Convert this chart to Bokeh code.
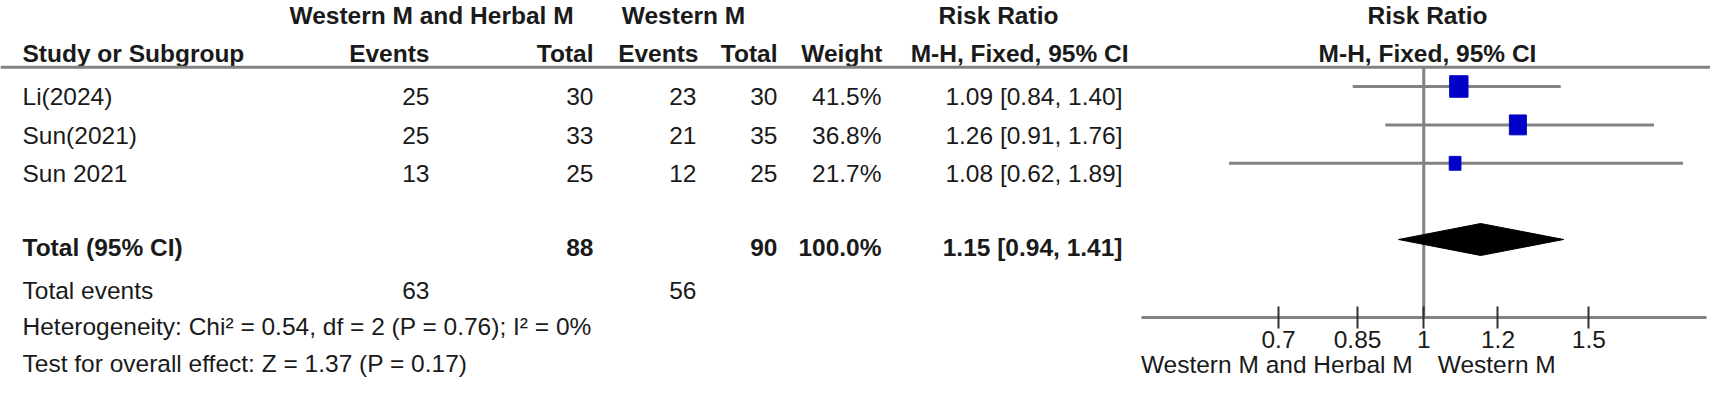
import math
from bokeh.plotting import figure
from bokeh.models import Range1d, LogScale, LogAxis, FixedTicker, CustomJSTickFormatter
from bokeh.core.properties import value
from bokeh.embed import file_html
from bokeh.resources import INLINE

# ---------------- data ----------------
studies = ["Li(2024)", "Sun(2021)", "Sun 2021"]
exp_events = [25, 25, 13]
exp_total = [30, 33, 25]
ctl_events = [23, 21, 12]
ctl_total = [30, 35, 25]
weights = [41.5, 36.8, 21.7]
rr = [1.09, 1.26, 1.08]
rr_lo = [0.84, 0.91, 0.62]
rr_hi = [1.40, 1.76, 1.89]
pooled = [1.15, 0.94, 1.41]          # estimate, lower, upper
total_weight = [100.0]
heterogeneity = "Heterogeneity: Chi\u00b2 = 0.54, df = 2 (P = 0.76); I\u00b2 = 0%"
overall = "Test for overall effect: Z = 1.37 (P = 0.17)"
ticks = [0.7, 0.85, 1, 1.2, 1.5]
axis_bounds = [0.5, 2]
null_value = [1]
favours = ["Western M and Herbal M", "Western M"]
group_headers = ["Western M and Herbal M", "Western M", "Risk Ratio", "Risk Ratio"]
col_headers = ["Study or Subgroup", "Events", "Total", "Events", "Total", "Weight",
               "M-H, Fixed, 95% CI", "M-H, Fixed, 95% CI"]
total_label = "Total (95% CI)"
events_label = "Total events"

# ---------------- layout / style ----------------
W, H = 1710, 378
FONT = "Liberation Sans"
FS = "24.5px"
TXT = "#1a1a1a"
GRAY = "#828282"
BLUE = "#0000c8"

X_LEFT = 22
X_EV1, X_TOT1, X_EV2, X_TOT2, X_WT, X_RR = 429, 593, 696, 777, 881, 1122
X_G1, X_G2, X_G3 = 431, 683, 998
X_MH_HDR = 1128
X_RIGHT_HDR = 1427

Y_HDR1, Y_HDR2, Y_RULE = 15, 52.5, 66.7
ROW_TEXT_Y = [96 + i * 38.6 for i in range(len(studies))]
ROW_MARK_Y = [86 + i * 38.4 for i in range(len(studies))]
Y_TOTAL_TXT, Y_DIAMOND = 246.5, 239
Y_EVENTS, Y_HET, Y_TEST = 289.5, 326, 363
Y_AXIS = 316.7
Y_FAV = 364
DIAMOND_HALF = 16

# forest log-scale mapping: 0.5 -> px 1141, 2 -> px 1705.5
PX_A, PX_B = 1141, 1705.5
ppl = (PX_B - PX_A) / math.log(axis_bounds[1] / axis_bounds[0])
rr_start = axis_bounds[0] * math.exp(-PX_A / ppl)
rr_end = axis_bounds[1] * math.exp((W - PX_B) / ppl)

p = figure(width=W, height=H, x_range=Range1d(0, W), y_range=Range1d(H, 0),
           x_axis_location=None, y_axis_location=None, min_border=0,
           toolbar_location=None, output_backend="svg", outline_line_color=None,
           background_fill_color="white", border_fill_color="white")
p.grid.visible = False
p.extra_x_ranges = {"rr": Range1d(rr_start, rr_end)}
p.extra_x_scales = {"rr": LogScale()}


def txt(xs, ys, texts, align, bold=False, **kw):
    p.text(x=xs, y=ys, text=texts, text_align=align, text_baseline="middle",
           text_font=value(FONT), text_font_size=FS,
           text_font_style="bold" if bold else "normal", text_color=TXT, **kw)


# header
txt([X_G1, X_G2, X_G3], [Y_HDR1] * 3, group_headers[:3], "center", bold=True)
txt([X_LEFT], [Y_HDR2], col_headers[:1], "left", bold=True)
txt([X_EV1, X_TOT1, X_EV2 + 2, X_TOT2, X_WT + 1], [Y_HDR2] * 5, col_headers[1:6], "right", bold=True)
txt([X_MH_HDR], [Y_HDR2], col_headers[6:7], "right", bold=True)
txt([X_RIGHT_HDR], [Y_HDR1], group_headers[3:], "center", bold=True)
txt([X_RIGHT_HDR], [Y_HDR2], col_headers[7:], "center", bold=True)
p.segment(x0=[0], x1=[W], y0=[Y_RULE], y1=[Y_RULE], line_color=GRAY, line_width=3)

# study rows
n = len(studies)
txt([X_LEFT] * n, ROW_TEXT_Y, studies, "left")
txt([X_EV1] * n, ROW_TEXT_Y, [str(v) for v in exp_events], "right")
txt([X_TOT1] * n, ROW_TEXT_Y, [str(v) for v in exp_total], "right")
txt([X_EV2] * n, ROW_TEXT_Y, [str(v) for v in ctl_events], "right")
txt([X_TOT2] * n, ROW_TEXT_Y, [str(v) for v in ctl_total], "right")
txt([X_WT] * n, ROW_TEXT_Y, [f"{w:.1f}%" for w in weights], "right")
txt([X_RR] * n, ROW_TEXT_Y, [f"{a:.2f} [{b:.2f}, {c:.2f}]" for a, b, c in zip(rr, rr_lo, rr_hi)], "right")

# total rows
txt([X_LEFT], [Y_TOTAL_TXT], [total_label], "left", bold=True)
txt([X_TOT1, X_TOT2, X_WT], [Y_TOTAL_TXT] * 3,
    [str(sum(exp_total)), str(sum(ctl_total)), f"{total_weight[0]:.1f}%"], "right", bold=True)
txt([X_RR], [Y_TOTAL_TXT], [f"{pooled[0]:.2f} [{pooled[1]:.2f}, {pooled[2]:.2f}]"], "right", bold=True)
txt([X_LEFT], [Y_EVENTS], [events_label], "left")
txt([X_EV1, X_EV2], [Y_EVENTS] * 2, [str(sum(exp_events)), str(sum(ctl_events))], "right")
txt([X_LEFT], [Y_HET], [heterogeneity], "left")
txt([X_LEFT], [Y_TEST], [overall], "left")

# forest plot
p.segment(x0=null_value, x1=null_value, y0=[Y_RULE], y1=[Y_AXIS], x_range_name="rr",
          line_color=GRAY, line_width=3)
p.segment(x0=rr_lo, x1=rr_hi, y0=ROW_MARK_Y, y1=ROW_MARK_Y, x_range_name="rr",
          line_color=GRAY, line_width=3)
p.rect(x=rr, y=ROW_MARK_Y,
       width=[3.7 * math.sqrt(w) - 5.5 for w in weights],
       height=[4.3 * math.sqrt(w) - 6.2 for w in weights],
       width_units="screen", height_units="screen", x_range_name="rr",
       fill_color=BLUE, line_color=BLUE, line_width=1)
p.patch(x=[pooled[1], pooled[0], pooled[2], pooled[0]],
        y=[Y_DIAMOND, Y_DIAMOND - DIAMOND_HALF, Y_DIAMOND, Y_DIAMOND + DIAMOND_HALF],
        x_range_name="rr", fill_color="black", line_color="black", line_width=1)

ax = LogAxis(x_range_name="rr", ticker=FixedTicker(ticks=ticks),
             formatter=CustomJSTickFormatter(code="return tick.toString();"),
             bounds=tuple(axis_bounds), fixed_location=Y_AXIS,
             axis_line_color=GRAY, axis_line_width=3,
             major_tick_in=11, major_tick_out=11,
             major_tick_line_color="#333333", major_tick_line_width=2,
             minor_tick_line_color=None,
             major_label_text_font=FONT, major_label_text_font_size=FS,
             major_label_text_color=TXT, major_label_standoff=3)
p.add_layout(ax, "below")

p.text(x=null_value, y=[Y_FAV], text=[favours[0]], x_offset=-11, x_range_name="rr",
       text_align="right", text_baseline="middle", text_font=value(FONT),
       text_font_size=FS, text_color=TXT)
p.text(x=null_value, y=[Y_FAV], text=[favours[1]], x_offset=14, x_range_name="rr",
       text_align="left", text_baseline="middle", text_font=value(FONT),
       text_font_size=FS, text_color=TXT)

open("out.html", "w").write(file_html(p, INLINE))
